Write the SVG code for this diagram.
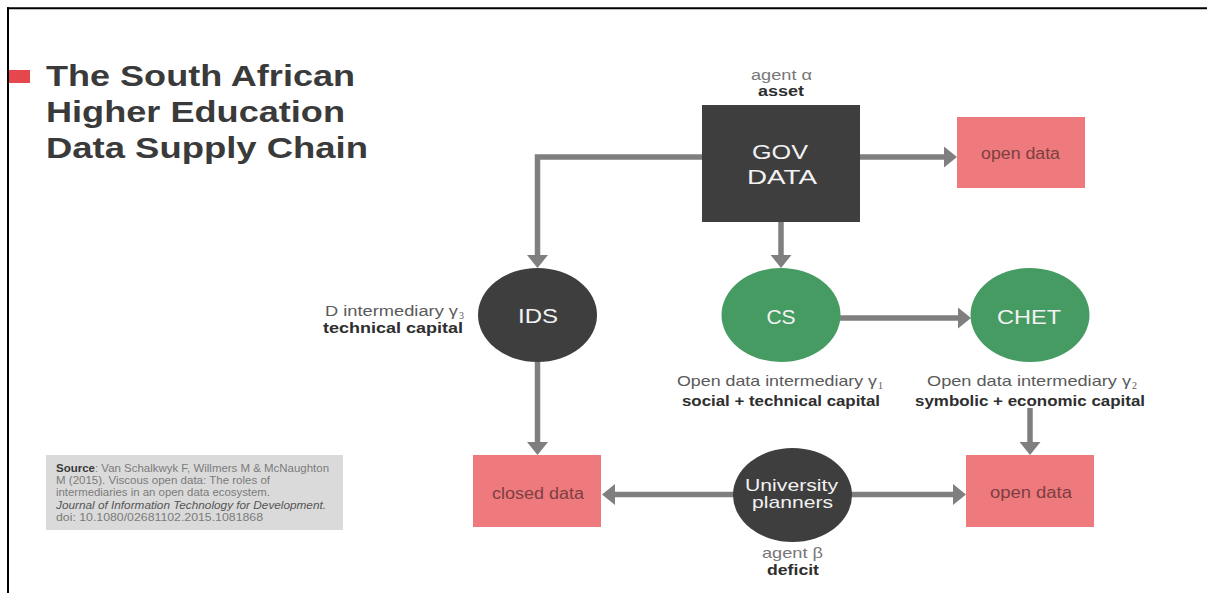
<svg xmlns="http://www.w3.org/2000/svg" width="1207" height="593" viewBox="0 0 1207 593">
<style>
text{font-family:"Liberation Sans",Arial,Helvetica,sans-serif}
.title{font-size:30px;font-weight:bold;fill:#3a3a3a}
.dark{fill:#3e3e3e}
.green{fill:#469b63}
.pink{fill:#ef7a7e}
.ntxt{fill:#f2f2f2}
.ptxt{font-size:16px;fill:#7d3f42}
.lbl{font-size:15px;fill:#5a5a5a}
.sub{font-size:10px;fill:#5a5a5a;font-family:"Liberation Serif",serif}
.blbl{font-size:15px;font-weight:bold;fill:#2e2e2e}
.src{font-size:11px;fill:#7a7a7a}
.conn{fill:none;stroke:#7f7f7f;stroke-width:5.5}
</style>
<defs>
<marker id="ah" markerUnits="userSpaceOnUse" markerWidth="13" markerHeight="21" refX="0" refY="10.5" orient="auto" viewBox="0 0 13 21">
<path d="M0,0 L13,10.5 L0,21 Z" fill="#7f7f7f"/>
</marker>
</defs>
<rect width="1207" height="593" fill="#ffffff"/>
<g id="frame">
<line x1="7" y1="8.3" x2="1207" y2="8.3" stroke="#000" stroke-width="2"/>
<line x1="8" y1="7.3" x2="8" y2="593" stroke="#000" stroke-width="2"/>
</g>
<g id="title">
<rect x="9" y="70" width="21" height="13" fill="#e5474d"/>
<text class="title" x="46" y="86" textLength="309" lengthAdjust="spacingAndGlyphs">The South African</text>
<text class="title" x="46" y="122" textLength="299" lengthAdjust="spacingAndGlyphs">Higher Education</text>
<text class="title" x="46" y="158" textLength="322" lengthAdjust="spacingAndGlyphs">Data Supply Chain</text>
</g>
<g id="connectors">
<path class="conn" d="M702,157 H537.5 V255" marker-end="url(#ah)"/>
<path class="conn" d="M860,157 H944" marker-end="url(#ah)"/>
<path class="conn" d="M781,222 V255" marker-end="url(#ah)"/>
<path class="conn" d="M840,318 H958" marker-end="url(#ah)"/>
<path class="conn" d="M537.5,361 V442" marker-end="url(#ah)"/>
<path class="conn" d="M1030,408 V442" marker-end="url(#ah)"/>
<path class="conn" d="M734,494.5 H615" marker-end="url(#ah)"/>
<path class="conn" d="M851,494.5 H953" marker-end="url(#ah)"/>
</g>
<g id="gov-data">
<text class="lbl" x="751" y="80" textLength="61" lengthAdjust="spacingAndGlyphs" style="font-size:14px;fill:#777">agent α</text>
<text class="blbl" x="758" y="96" textLength="46" lengthAdjust="spacingAndGlyphs" style="font-size:14px">asset</text>
<rect class="dark" x="702" y="105" width="158" height="117"/>
<text class="ntxt" x="752" y="159" font-size="21" textLength="56" lengthAdjust="spacingAndGlyphs">GOV</text>
<text class="ntxt" x="747" y="184" font-size="21" textLength="70" lengthAdjust="spacingAndGlyphs">DATA</text>
</g>
<g id="open-data-top">
<rect class="pink" x="957" y="117" width="128" height="71"/>
<text class="ptxt" x="981" y="159" textLength="79" lengthAdjust="spacingAndGlyphs">open data</text>
</g>
<g id="ids">
<ellipse class="dark" cx="537.5" cy="315" rx="59.5" ry="47"/>
<text class="ntxt" x="518" y="323" font-size="21" textLength="40" lengthAdjust="spacingAndGlyphs">IDS</text>
<text class="lbl" x="325" y="316" textLength="133" lengthAdjust="spacingAndGlyphs" style="font-size:14px">D intermediary γ</text>
<text class="sub" x="459" y="319">3</text>
<text class="blbl" x="323" y="333" textLength="140" lengthAdjust="spacingAndGlyphs" style="font-size:14px">technical capital</text>
</g>
<g id="cs">
<ellipse class="green" cx="781" cy="315" rx="59.5" ry="47"/>
<text class="ntxt" x="781" y="324" font-size="21" text-anchor="middle">CS</text>
<text class="lbl" x="677" y="385.5" textLength="200" lengthAdjust="spacingAndGlyphs">Open data intermediary γ</text>
<text class="sub" x="878" y="388.5">1</text>
<text class="blbl" x="682" y="406" textLength="198" lengthAdjust="spacingAndGlyphs">social + technical capital</text>
</g>
<g id="chet">
<ellipse class="green" cx="1030" cy="315" rx="59.5" ry="47"/>
<text class="ntxt" x="997" y="324" font-size="21" textLength="64" lengthAdjust="spacingAndGlyphs">CHET</text>
<text class="lbl" x="927" y="385.5" textLength="204" lengthAdjust="spacingAndGlyphs">Open data intermediary γ</text>
<text class="sub" x="1132" y="388.5">2</text>
<text class="blbl" x="915" y="406" textLength="230" lengthAdjust="spacingAndGlyphs">symbolic + economic capital</text>
</g>
<g id="closed-data">
<rect class="pink" x="473" y="455" width="128" height="72"/>
<text class="ptxt" x="492" y="499" textLength="92" lengthAdjust="spacingAndGlyphs">closed data</text>
</g>
<g id="university-planners">
<ellipse class="dark" cx="792.5" cy="495" rx="59.5" ry="47"/>
<text class="ntxt" x="745" y="491" font-size="17" textLength="93" lengthAdjust="spacingAndGlyphs">University</text>
<text class="ntxt" x="752" y="508" font-size="17" textLength="81" lengthAdjust="spacingAndGlyphs">planners</text>
<text class="lbl" x="762" y="558" textLength="61" lengthAdjust="spacingAndGlyphs" style="fill:#777">agent β</text>
<text class="blbl" x="767" y="575" textLength="52" lengthAdjust="spacingAndGlyphs">deficit</text>
</g>
<g id="open-data-bottom">
<rect class="pink" x="966" y="455" width="128" height="72"/>
<text class="ptxt" x="990" y="498" textLength="82" lengthAdjust="spacingAndGlyphs">open data</text>
</g>
<g id="source">
<rect x="46" y="455" width="297" height="75" fill="#dadada"/>
<text class="src" x="56" y="472" textLength="39" lengthAdjust="spacingAndGlyphs" style="font-weight:bold;fill:#3a3a3a">Source</text>
<text class="src" x="95" y="472" textLength="234" lengthAdjust="spacingAndGlyphs">: Van Schalkwyk F, Willmers M &amp; McNaughton</text>
<text class="src" x="56" y="484" textLength="214" lengthAdjust="spacingAndGlyphs">M (2015). Viscous open data: The roles of</text>
<text class="src" x="56" y="496" textLength="214" lengthAdjust="spacingAndGlyphs">intermediaries in an open data ecosystem.</text>
<text class="src" x="56" y="508.5" textLength="270" lengthAdjust="spacingAndGlyphs" style="font-style:italic;fill:#555">Journal of Information Technology for Development.</text>
<text class="src" x="56" y="521" textLength="207" lengthAdjust="spacingAndGlyphs">doi: 10.1080/02681102.2015.1081868</text>
</g>
</svg>
